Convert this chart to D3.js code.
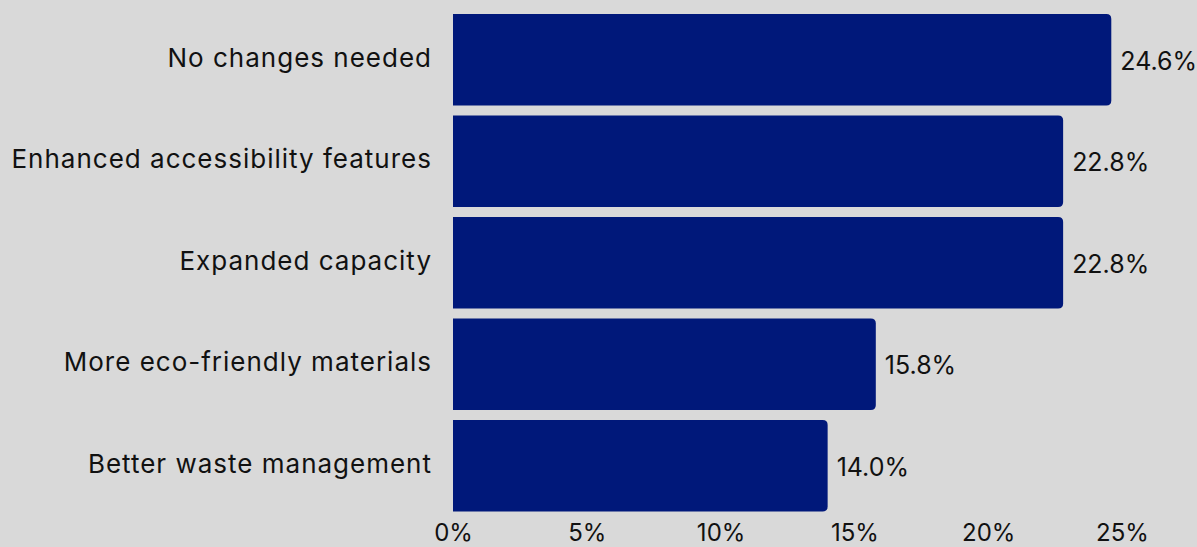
<!DOCTYPE html>
<html>
<head>
<meta charset="utf-8">
<script src="https://cdn.jsdelivr.net/npm/d3@7"></script>
<style>
  html, body { margin: 0; padding: 0; background: #d9d9d9; }
  svg { display: block; font-family: "Inter", "Lato", sans-serif; }
</style>
</head>
<body>
<svg id="chart" width="1197" height="547"></svg>
<script>
const categories = [
  "No changes needed",
  "Enhanced accessibility features",
  "Expanded capacity",
  "More eco-friendly materials",
  "Better waste management"
];
const shares = [24.6, 22.8, 22.8, 15.8, 14.0];
const tickValues = [0, 5, 10, 15, 20, 25];

const svg = d3.select("#chart");

const data = categories.map((c, i) => ({ name: c, value: shares[i] }));

const x = d3.scaleLinear()
  .domain([0, 25])
  .range([453, 1122]);

const y = d3.scaleBand()
  .domain(categories)
  .range([9, 516.5])
  .paddingInner(0.1)
  .paddingOuter(0.05);

// bar with rounded right end only
function barPath(x0, y0, w, h, r) {
  return `M${x0},${y0}H${x0 + w - r}Q${x0 + w},${y0} ${x0 + w},${y0 + r}` +
    `V${y0 + h - r}Q${x0 + w},${y0 + h} ${x0 + w - r},${y0 + h}H${x0}Z`;
}

svg.selectAll(".bar")
  .data(data)
  .enter().append("path")
  .attr("class", "bar")
  .attr("d", d => barPath(x(0), y(d.name), x(d.value) - x(0), y.bandwidth(), 5))
  .style("fill", "#00187a");

svg.selectAll(".cat")
  .data(data)
  .enter().append("text")
  .attr("class", "cat")
  .attr("x", x(0) - 21)
  .attr("y", d => y(d.name) + y.bandwidth() / 2 + 7)
  .attr("text-anchor", "end")
  .style("font-size", "26px")
  .style("letter-spacing", "1px")
  .style("fill", "#111")
  .text(d => d.name);

svg.selectAll(".val")
  .data(data)
  .enter().append("text")
  .attr("class", "val")
  .attr("x", d => x(d.value) + 9)
  .attr("y", d => y(d.name) + y.bandwidth() / 2 + 10)
  .style("font-size", "25px")
  .style("fill", "#111")
  .text(d => d.value.toFixed(1) + "%");

const xAxis = svg.append("g")
  .call(d3.axisBottom(x).tickValues(tickValues).tickFormat(d => d + "%").tickSize(0).tickPadding(0));
xAxis.select(".domain").remove();
xAxis.selectAll("text")
  .attr("y", 541)
  .attr("dy", null)
  .style("font-size", "24px")
  .style("font-family", "Inter, Lato, sans-serif")
  .style("fill", "#111");
</script>
</body>
</html>
